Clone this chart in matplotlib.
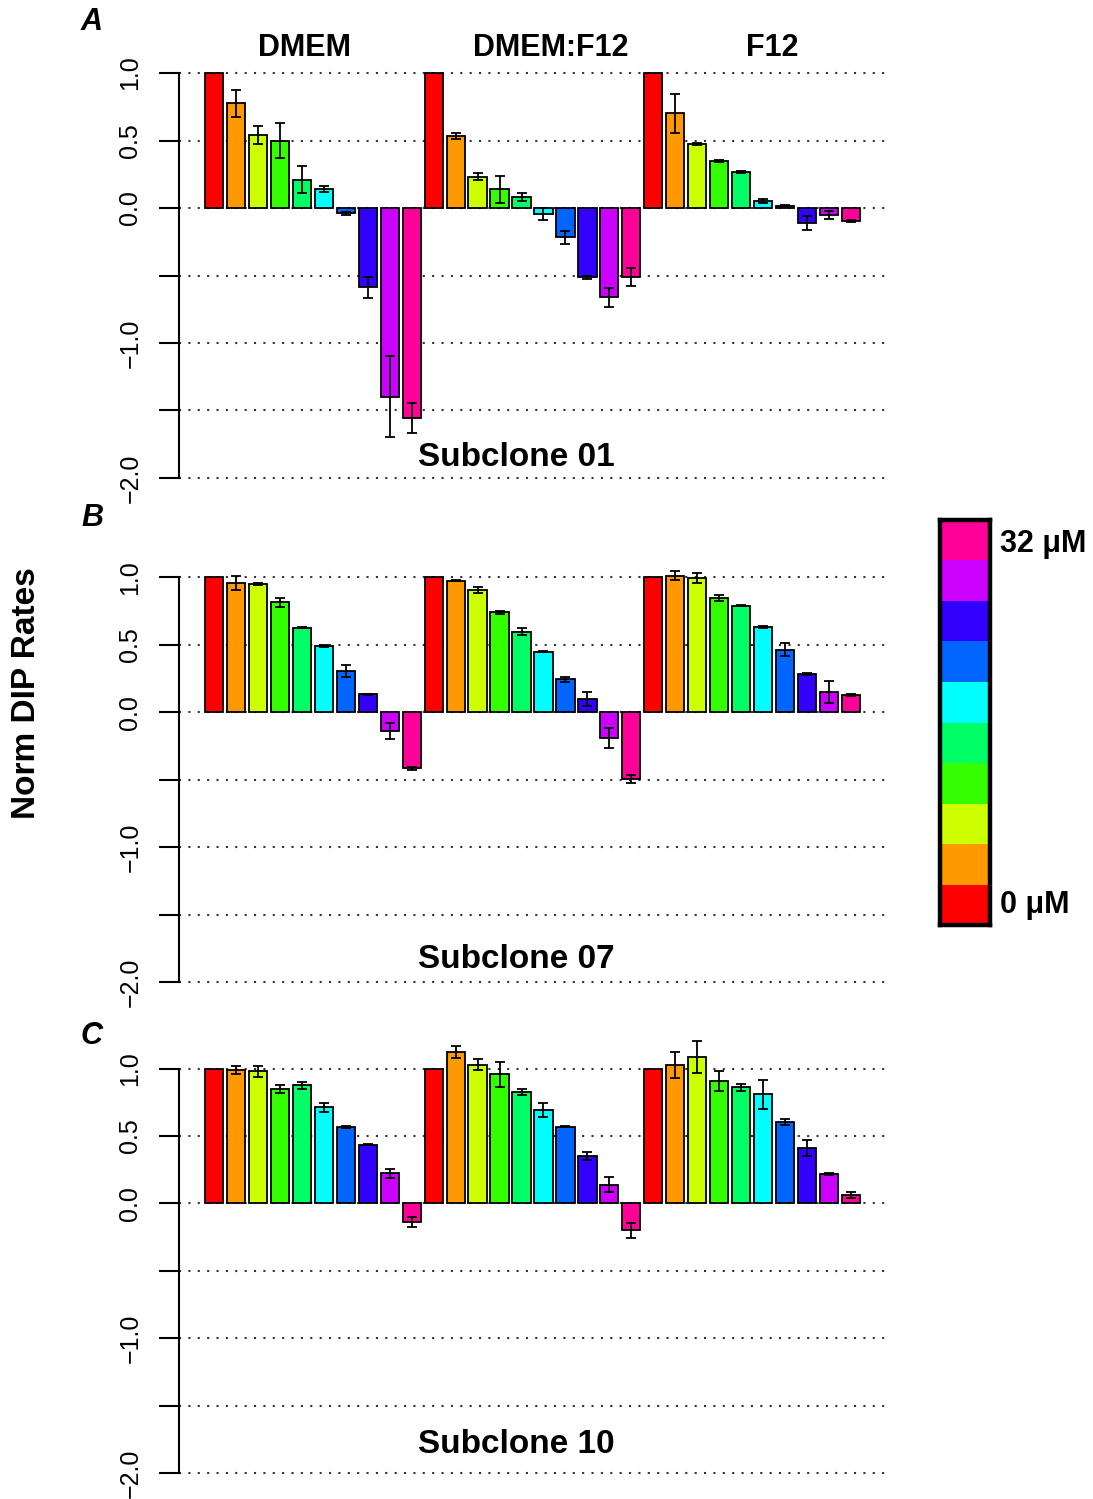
import matplotlib
matplotlib.use('Agg')
import matplotlib.pyplot as plt
import matplotlib.transforms as mtransforms
import numpy as np

plt.rcParams['font.family'] = ['Liberation Sans', 'DejaVu Sans']

media = ['DMEM', 'DMEM:F12', 'F12']
conc_colors = ['#FF0000', '#FF9900', '#CCFF00', '#33FF00', '#00FF66',
               '#00FFFF', '#0066FF', '#3300FF', '#CC00FF', '#FF0099']
subclones = ['Subclone 01', 'Subclone 07', 'Subclone 10']
panel_letters = ['A', 'B', 'C']
legend_labels = ['0 μM', '32 μM']
ytick_vals = [-2.0, -1.5, -1.0, -0.5, 0.0, 0.5, 1.0]
ytick_labels = ['\u22122.0', '', '\u22121.0', '', '0.0', '0.5', '1.0']

# Subclone 01
s01_dmem = [1.0, 0.775, 0.54, 0.50, 0.21, 0.138, -0.04, -0.588, -1.40, -1.558]
s01_dmem_err = [0, 0.10, 0.067, 0.13, 0.10, 0.022, 0.01, 0.077, 0.30, 0.11]
s01_mix = [1.0, 0.533, 0.232, 0.138, 0.079, -0.045, -0.217, -0.513, -0.662, -0.509]
s01_mix_err = [0, 0.02, 0.027, 0.10, 0.03, 0.047, 0.046, 0.01, 0.07, 0.068]
s01_f12 = [1.0, 0.701, 0.474, 0.348, 0.267, 0.054, 0.017, -0.114, -0.052, -0.094]
s01_f12_err = [0, 0.142, 0.01, 0.005, 0.008, 0.015, 0.008, 0.052, 0.028, 0.008]

# Subclone 07
s07_dmem = [1.0, 0.958, 0.948, 0.815, 0.627, 0.489, 0.304, 0.133, -0.141, -0.417]
s07_dmem_err = [0, 0.05, 0.008, 0.034, 0.005, 0.01, 0.043, 0.005, 0.057, 0.01]
s07_mix = [1.0, 0.975, 0.904, 0.741, 0.595, 0.449, 0.242, 0.099, -0.195, -0.494]
s07_mix_err = [0, 0.005, 0.022, 0.012, 0.026, 0.007, 0.022, 0.052, 0.074, 0.03]
s07_f12 = [1.0, 1.012, 0.995, 0.847, 0.788, 0.632, 0.462, 0.284, 0.15, 0.126]
s07_f12_err = [0, 0.031, 0.036, 0.022, 0.005, 0.01, 0.047, 0.007, 0.079, 0.007]

# Subclone 10
s10_dmem = [1.0, 0.990, 0.980, 0.849, 0.876, 0.713, 0.567, 0.436, 0.223, -0.139]
s10_dmem_err = [0, 0.03, 0.042, 0.03, 0.028, 0.033, 0.007, 0.005, 0.036, 0.036]
s10_mix = [1.0, 1.124, 1.03, 0.958, 0.827, 0.693, 0.569, 0.351, 0.139, -0.200]
s10_mix_err = [0, 0.047, 0.043, 0.095, 0.022, 0.05, 0.005, 0.032, 0.054, 0.053]
s10_f12 = [1.0, 1.025, 1.089, 0.911, 0.861, 0.809, 0.604, 0.411, 0.218, 0.064]
s10_f12_err = [0, 0.095, 0.119, 0.074, 0.023, 0.108, 0.02, 0.057, 0.005, 0.022]

panels = [
    (s01_dmem + s01_mix + s01_f12, s01_dmem_err + s01_mix_err + s01_f12_err),
    (s07_dmem + s07_mix + s07_f12, s07_dmem_err + s07_mix_err + s07_f12_err),
    (s10_dmem + s10_mix + s10_f12, s10_dmem_err + s10_mix_err + s10_f12_err),
]

W, H = 1093, 1499
fig = plt.figure(figsize=(W / 100, H / 100), dpi=100)

# axes geometry in pixels (top, bottom)
ax_px = [(56.8, 494.2), (561.0, 998.2), (1052.5, 1489.2)]
left_px, right_px = 179, 886
letter_y_px = [22, 518, 1036]
subclone_y = [-1.845, -1.83, -1.79]

n = 30
x = 0.7 + 1.2 * np.arange(n)
colors = conc_colors * 3

for k, (vals, errs) in enumerate(panels):
    top, bot = ax_px[k]
    ax = fig.add_axes([left_px / W, 1 - bot / H, (right_px - left_px) / W, (bot - top) / H])
    vals = np.array(vals)
    errs = np.array(errs)
    for yv in ytick_vals:
        ax.axhline(yv, color='#333333', lw=1.5, ls=(0, (1, 3.5)), zorder=1)
    bars = ax.bar(x, vals, width=1.0, color=colors, edgecolor='black', linewidth=1.3, zorder=3)
    for b in bars:
        b.set_clip_on(False)
    m = errs > 0
    eb = ax.errorbar(x[m], vals[m], yerr=errs[m], fmt='none', ecolor='black',
                     elinewidth=1.3, capsize=3.4, capthick=1.3, zorder=4)
    for art in eb.get_children():
        art.set_clip_on(False)
    ax.set_xlim(-1.232, 37.432)
    ax.set_ylim(-2.12, 1.12)
    for s in ['top', 'right', 'bottom']:
        ax.spines[s].set_visible(False)
    ax.spines['left'].set_bounds(-2, 1)
    ax.spines['left'].set_linewidth(1.5)
    ax.set_xticks([])
    ax.set_yticks(ytick_vals)
    ax.set_yticklabels(ytick_labels)
    ax.tick_params(axis='y', length=14.4, width=1.5, labelsize=18, pad=12)
    for lbl in ax.get_yticklabels():
        lbl.set_rotation(90)
        lbl.set_va('center')
    ax.patch.set_alpha(0)
    ax.text(17.2, subclone_y[k], subclones[k], ha='center', va='center',
            fontsize=24, fontweight='bold', zorder=5)
    fig.text(92 / W, 1 - letter_y_px[k] / H, panel_letters[k], ha='center', va='center',
             fontsize=22, fontweight='bold', fontstyle='italic')
    if k == 0:
        trans = mtransforms.blended_transform_factory(ax.transData, ax.transAxes)
        for lab, xm in zip(media, [5.604, 19.11, 31.2]):
            ax.text(xm, 1.02, lab, transform=trans, ha='center', va='center',
                    fontsize=22, fontweight='bold')

fig.text(27 / W, 1 - 693 / H, 'Norm DIP Rates', rotation=90, ha='center', va='center',
         fontsize=24, fontweight='bold')

# colour legend
lax = fig.add_axes([940 / W, 1 - 925 / H, 50 / W, 405 / H])
for i, c in enumerate(conc_colors):
    lax.bar(0.5, 1, width=1, bottom=i, color=c, edgecolor='none')
lax.set_xlim(0, 1)
lax.set_ylim(0, 10)
lax.set_xticks([])
lax.set_yticks([])
for s in lax.spines.values():
    s.set_linewidth(3.2)
lax.text(1.2, 0.5, legend_labels[0], ha='left', va='center', fontsize=22,
         fontweight='bold', transform=lax.transData)
lax.text(1.2, 9.4, legend_labels[1], ha='left', va='center', fontsize=22,
         fontweight='bold', transform=lax.transData)

fig.savefig('out.png', dpi=100)
